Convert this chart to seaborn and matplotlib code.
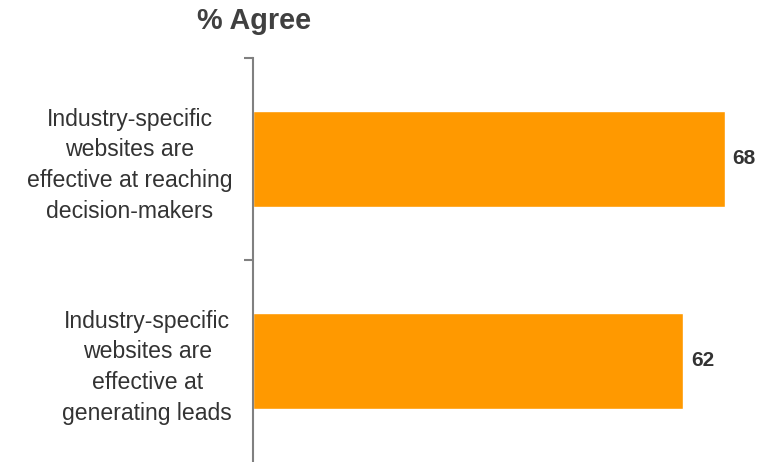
import matplotlib
matplotlib.use("Agg")
import matplotlib.pyplot as plt
import seaborn as sns
import pandas as pd
from matplotlib.ticker import FixedLocator

categories = [
    "Industry-specific\nwebsites are\neffective at reaching\ndecision-makers",
    "Industry-specific\nwebsites are\neffective at\ngenerating leads",
]
values = [68, 62]
title = "% Agree"

sns.set_theme(style="white")
plt.rcParams['font.family'] = ['Liberation Sans', 'DejaVu Sans']

df = pd.DataFrame({"cat": categories, "val": values})

fig = plt.figure(figsize=(7.65, 4.62), dpi=100)
ax = fig.add_axes([253/765, 0.0, 1 - 253/765, 1 - 58/462])

sns.barplot(data=df, x="val", y="cat", orient="h", color="#FF9900",
            saturation=1, width=0.475, ax=ax)

ax.set_xlim(0, 73.8)
ax.set_ylim(1.5, -0.5)
ax.set_xlabel("")
ax.set_ylabel("")
ax.set_xticks([])

ax.yaxis.set_major_locator(FixedLocator([-0.5, 0.5]))
ax.set_yticklabels(["", ""])
ax.yaxis.set_minor_locator(FixedLocator([0, 1]))
ax.set_yticklabels(categories, minor=True)
ax.tick_params(axis="y", which="major", length=6.5, width=1.5, color="#808080", left=True)
ax.tick_params(axis="y", which="minor", length=0, pad=15, labelsize=16.6, labelcolor="#333333")
for lbl in ax.get_yticklabels(minor=True):
    lbl.set_multialignment("center")
    lbl.set_linespacing(1.42)

for s in ["top", "right", "bottom"]:
    ax.spines[s].set_visible(False)
ax.spines["left"].set_color("#808080")
ax.spines["left"].set_linewidth(1.5)

for i, v in enumerate(values):
    ax.text(v + 1.15, i, f"{v}", va="center", ha="left", fontsize=15,
            fontweight="bold", color="#333333")

fig.text(254/765, 1 - 21/462, title, ha="center", va="center", fontsize=20.7,
         fontweight="bold", color="#404040")

fig.savefig("out.png", dpi=100)
